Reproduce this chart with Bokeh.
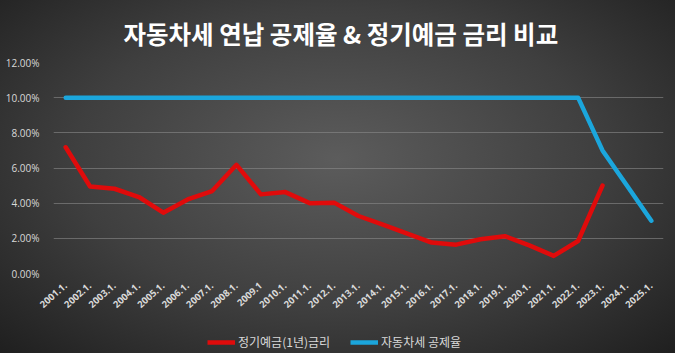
import math
from bokeh.plotting import figure
from bokeh.layouts import column
from bokeh.models import (ColumnDataSource, FactorRange, Range1d, FixedTicker,
                          PrintfTickFormatter, Legend, LegendItem)
from bokeh.embed import file_html
from bokeh.resources import INLINE

years = ["2001.1.", "2002.1.", "2003.1.", "2004.1.", "2005.1.", "2006.1.", "2007.1.",
         "2008.1.", "2009.1", "2010.1.", "2011.1.", "2012.1.", "2013.1.", "2014.1.",
         "2015.1.", "2016.1.", "2017.1.", "2018.1.", "2019.1.", "2020.1.", "2021.1.",
         "2022.1.", "2023.1.", "2024.1.", "2025.1."]
deposit_rate = [7.18, 4.95, 4.82, 4.35, 3.46, 4.21, 4.69, 6.18, 4.50, 4.63, 4.00, 4.03,
                3.27, 2.78, 2.27, 1.76, 1.64, 1.95, 2.12, 1.60, 1.00, 1.85, 5.00]
tax_discount = [10, 10, 10, 10, 10, 10, 10, 10, 10, 10, 10, 10, 10, 10, 10, 10, 10, 10,
                10, 10, 10, 10, 7.0, 5.0, 3.0]
y_ticks = [0, 2, 4, 6, 8, 10, 12]
title_text = "자동차세 연납 공제율 & 정기예금 금리 비교"
name_deposit = "정기예금(1년)금리"
name_tax = "자동차세 공제율"

KR = "Noto Sans CJK KR"
RED = "#E00B0B"
BLUE = "#1BA6DC"

src_d = ColumnDataSource(dict(x=years[:len(deposit_rate)], y=deposit_rate))
src_t = ColumnDataSource(dict(x=years, y=tax_discount))

# ---- main chart ----
p = figure(width=675, height=323, x_range=FactorRange(*years), y_range=Range1d(0, 12),
           output_backend="svg", toolbar_location=None, title=title_text,
           min_border_left=53, min_border_right=12, min_border_top=62, min_border_bottom=50)
p.background_fill_alpha = 0
p.border_fill_alpha = 0
p.outline_line_color = None

p.title.align = "left"
p.title.offset = 70
p.title.text_color = "white"
p.title.text_font = KR
p.title.text_font_size = "24.5px"
p.title.text_font_style = "bold"
p.title.standoff = 23

p.line("x", "y", source=src_d, line_color=RED, line_width=4.5,
       line_join="round", line_cap="round")
p.line("x", "y", source=src_t, line_color=BLUE, line_width=4.5,
       line_join="round", line_cap="round")

p.yaxis.ticker = FixedTicker(ticks=y_ticks)
p.yaxis.formatter = PrintfTickFormatter(format="%.2f%%")
p.yaxis.axis_line_color = None
p.yaxis.major_tick_line_color = None
p.yaxis.minor_tick_line_color = None
p.yaxis.major_label_text_color = "#d9d9d9"
p.yaxis.major_label_text_font = "Open Sans"
p.yaxis.major_label_text_font_size = "10px"
p.yaxis.major_label_standoff = 8

p.xaxis.axis_line_color = None
p.xaxis.major_tick_line_color = None
p.xaxis.major_label_orientation = math.pi / 4.3
p.xaxis.major_label_text_color = "#d9d9d9"
p.xaxis.major_label_text_font = "Open Sans"
p.xaxis.major_label_text_font_size = "9.5px"
p.xaxis.major_label_text_font_style = "bold"
p.xaxis.major_label_standoff = 5

p.xgrid.grid_line_color = None
p.ygrid.grid_line_color = "#8a8a8a"
p.ygrid.grid_line_alpha = 0.6
p.ygrid.grid_line_width = 1

# ---- legend strip ----
q = figure(width=675, height=30, x_range=FactorRange(*years), y_range=Range1d(100, 101),
           output_backend="svg", toolbar_location=None,
           x_axis_location=None, y_axis_location=None,
           min_border_left=0, min_border_right=0, min_border_top=0, min_border_bottom=0)
q.background_fill_alpha = 0
q.border_fill_alpha = 0
q.outline_line_color = None
q.grid.visible = False
l_d = q.line("x", "y", source=src_d, line_color=RED, line_width=4.5)
l_t = q.line("x", "y", source=src_t, line_color=BLUE, line_width=4.5)

legend = Legend(items=[LegendItem(label=name_deposit, renderers=[l_d]),
                       LegendItem(label=name_tax, renderers=[l_t])],
                orientation="horizontal", location=(154, 3),
                background_fill_alpha=0, border_line_color=None,
                label_text_color="#d9d9d9", label_text_font=KR,
                label_text_font_size="12px", glyph_width=28, glyph_height=12,
                spacing=20, label_standoff=3, padding=2, margin=0)
q.add_layout(legend)

layout = column(p, q, spacing=0)
layout.styles = {"background": "radial-gradient(ellipse at 50% 45%, #5c5c5c 0%, #3f3f3f 55%, #1f1f1f 100%)"}

open("out.html", "w").write(file_html(layout, INLINE))
